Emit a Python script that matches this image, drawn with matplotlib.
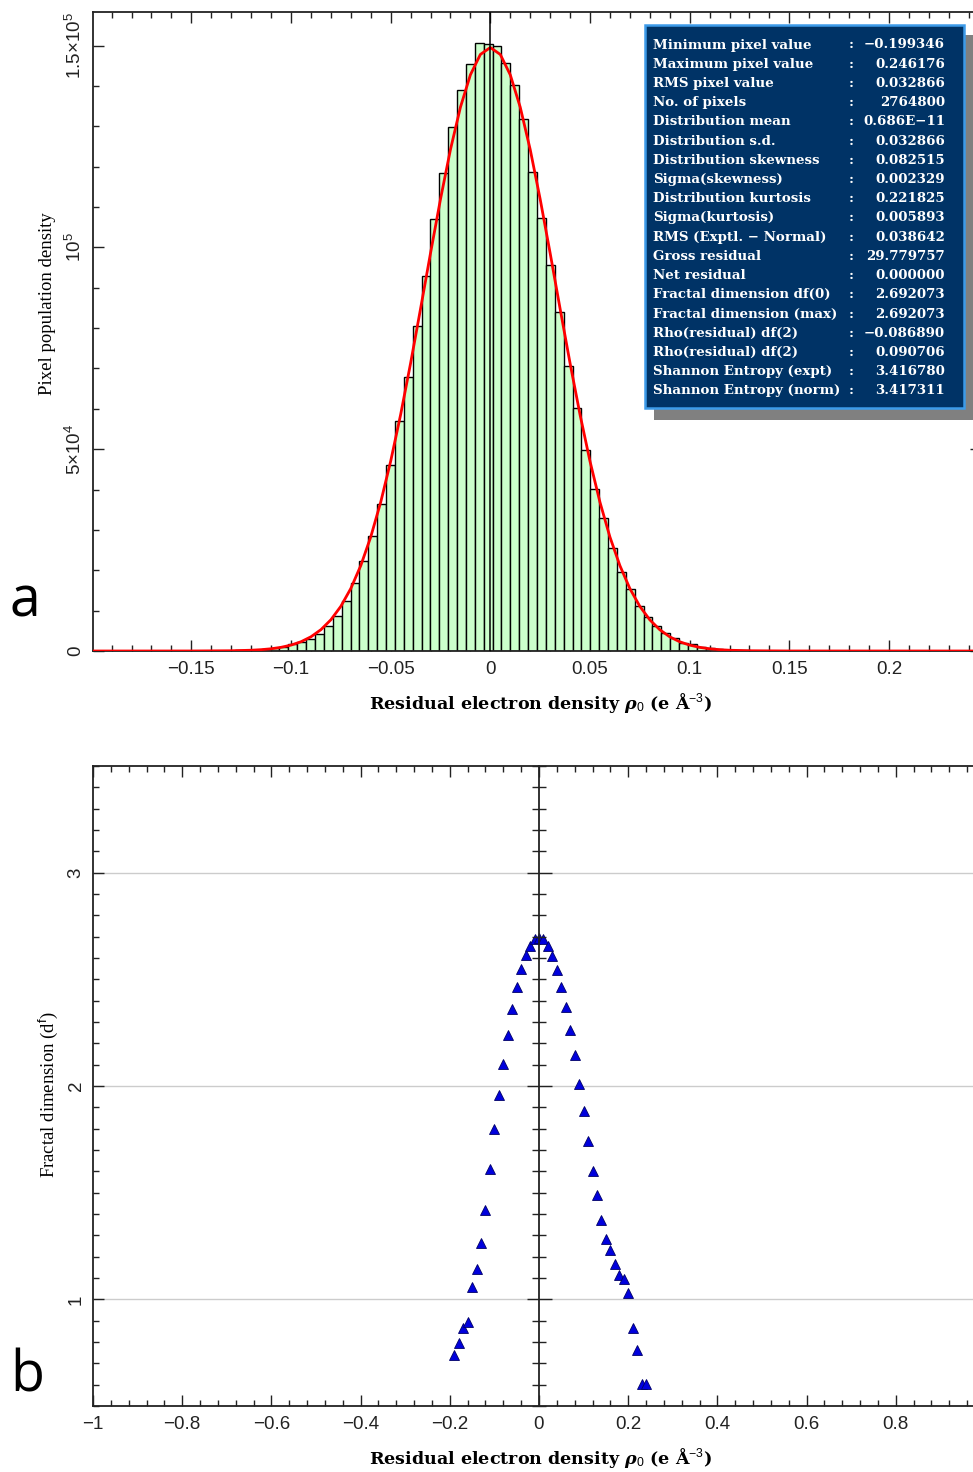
import numpy as np
import matplotlib
matplotlib.use("Agg")
import matplotlib.pyplot as plt
import matplotlib.ticker as mticker
from matplotlib.patches import Rectangle

# --- data ---
RHO_MIN = -0.199346
RHO_MAX = 0.246176

# pixel counts per bin (100 equal bins between RHO_MIN and RHO_MAX)
counts = [
    1, 2, 3, 4, 5, 7, 9, 12, 16, 21,
    28, 37, 50, 66, 88, 115, 150, 200, 300, 500,
    740, 1060, 1650, 2150, 2970, 4200, 6100, 8660, 12450, 16820,
    22270, 28450, 36400, 46100, 57000, 68000, 80500, 93000, 106900, 118400,
    129700, 139000, 145300, 150700, 150300, 149900, 145600, 140300, 131800, 118600,
    107300, 95600, 83900, 70600, 60300, 49900, 40250, 32830, 25400, 19620,
    15410, 11130, 8490, 6185, 4380, 3290, 2050, 1650, 1060, 820,
    500, 330, 230, 160, 115, 85, 62, 46, 34, 25,
    18, 14, 11, 8, 6, 5, 4, 3, 3, 2,
    2, 2, 1, 1, 1, 1, 1, 1, 1, 1,
]

# normal curve
curve_x = [-0.199, -0.15, -0.13, -0.12, -0.115, -0.11, -0.105, -0.1, -0.095, -0.09,
           -0.085, -0.08, -0.075, -0.07, -0.065, -0.06, -0.055, -0.05, -0.045, -0.04,
           -0.035, -0.03, -0.025, -0.02, -0.015, -0.01, -0.005, 0.0, 0.005, 0.01,
           0.015, 0.02, 0.025, 0.03, 0.035, 0.04, 0.045, 0.05, 0.055, 0.06,
           0.065, 0.07, 0.075, 0.08, 0.085, 0.09, 0.095, 0.1, 0.105, 0.11,
           0.115, 0.12, 0.13, 0.15, 0.246]
curve_y = [0, 5, 60, 190, 330, 550, 910, 1460, 2290, 3520,
           5280, 7730, 11070, 15480, 21160, 28250, 36870, 47010, 58570, 71300,
           84810, 98580, 111950, 124240, 134720, 142740, 147780, 149500, 147780, 142740,
           134720, 124240, 111950, 98580, 84810, 71300, 58570, 47010, 36870, 28250,
           21160, 15480, 11070, 7730, 5280, 3520, 2290, 1460, 910, 550,
           330, 190, 60, 5, 0]

xticks_a = [-0.15, -0.1, -0.05, 0, 0.05, 0.1, 0.15, 0.2]
xticklabels_a = ["\u22120.15", "\u22120.1", "\u22120.05", "0", "0.05", "0.1", "0.15", "0.2"]
yticks_a = [0, 5e4, 1e5, 1.5e5]
yticklabels_a = ["0", "5\u00d710$^4$", "10$^5$", "1.5\u00d710$^5$"]

# fractal dimension vs residual density
fd_rho = [-0.19, -0.18, -0.17, -0.16, -0.15, -0.14, -0.13, -0.12, -0.11, -0.10,
          -0.09, -0.08, -0.07, -0.06, -0.05, -0.04, -0.03, -0.02, -0.01, 0.0,
          0.01, 0.02, 0.03, 0.04, 0.05, 0.06, 0.07, 0.08, 0.09, 0.10,
          0.11, 0.12, 0.13, 0.14, 0.15, 0.16, 0.17, 0.18, 0.19, 0.20,
          0.21, 0.22, 0.23, 0.24]
fd_val = [0.741, 0.795, 0.867, 0.894, 1.056, 1.144, 1.262, 1.417, 1.609, 1.798,
          1.959, 2.101, 2.241, 2.362, 2.466, 2.547, 2.614, 2.658, 2.688, 2.692,
          2.689, 2.655, 2.611, 2.546, 2.466, 2.371, 2.263, 2.143, 2.010, 1.884,
          1.740, 1.601, 1.490, 1.372, 1.281, 1.230, 1.167, 1.116, 1.094, 1.030,
          0.866, 0.761, 0.602, 0.602]

xticks_b = [-1, -0.8, -0.6, -0.4, -0.2, 0, 0.2, 0.4, 0.6, 0.8]
xticklabels_b = ["\u22121", "\u22120.8", "\u22120.6", "\u22120.4", "\u22120.2",
                 "0", "0.2", "0.4", "0.6", "0.8"]
yticks_b = [1, 2, 3]

stat_names = [
    "Minimum pixel value", "Maximum pixel value", "RMS pixel value",
    "No. of pixels", "Distribution mean", "Distribution s.d.",
    "Distribution skewness", "Sigma(skewness)", "Distribution kurtosis",
    "Sigma(kurtosis)", "RMS (Exptl. \u2212 Normal)", "Gross residual",
    "Net residual", "Fractal dimension df(0)", "Fractal dimension (max)",
    "Rho(residual) df(2)", "Rho(residual) df(2)", "Shannon Entropy (expt)",
    "Shannon Entropy (norm)",
]
stat_values = [
    "\u22120.199346", "0.246176", "0.032866", "2764800", "0.686E\u221211",
    "0.032866", "0.082515", "0.002329", "0.221825", "0.005893",
    "0.038642", "29.779757", "0.000000", "2.692073", "2.692073",
    "\u22120.086890", "0.090706", "3.416780", "3.417311",
]

# --- style ---
plt.rcParams['font.family'] = ['Liberation Sans', 'DejaVu Sans']
plt.rcParams['mathtext.fontset'] = 'custom'
plt.rcParams['mathtext.rm'] = 'Liberation Sans'
plt.rcParams['mathtext.it'] = 'DejaVu Serif:italic:bold'
plt.rcParams['mathtext.bf'] = 'Liberation Sans:bold'
plt.rcParams['axes.unicode_minus'] = True

W, H = 973, 1472
fig = plt.figure(figsize=(W / 100, H / 100), dpi=100)


def px_box(left, top, right, bottom):
    return [left / W, 1 - bottom / H, (right - left) / W, (bottom - top) / H]


def style_axes(ax):
    for s in ax.spines.values():
        s.set_linewidth(1.3)
        s.set_color('#222222')
    ax.tick_params(which='both', direction='in', top=True, right=True,
                   labelsize=13.5, colors='#222222', width=1)
    ax.tick_params(which='major', length=8)
    ax.tick_params(which='minor', length=4.5)
    ax.tick_params(axis='y', labelrotation=90, pad=6)
    ax.tick_params(axis='x', pad=7)


# --- panel a: histogram ---
ax_a = fig.add_axes(px_box(93, 12, 981, 651))
edges = np.linspace(RHO_MIN, RHO_MAX, len(counts) + 1)
bw = edges[1] - edges[0]
ax_a.bar(edges[:-1], counts, width=bw, align='edge', color='#ccffcc',
         edgecolor='black', linewidth=1.0, zorder=2)
ax_a.plot(curve_x, curve_y, color='#ff0000', linewidth=2.0, zorder=3)
ax_a.axvline(0, color='black', linewidth=1.1, zorder=4)
ax_a.set_xlim(RHO_MIN, RHO_MAX)
ax_a.set_ylim(0, 158300)
ax_a.set_xticks(xticks_a)
ax_a.set_xticklabels(xticklabels_a)
ax_a.xaxis.set_minor_locator(mticker.MultipleLocator(0.01))
ax_a.set_yticks(yticks_a)
ax_a.set_yticklabels(yticklabels_a, va='center')
ax_a.yaxis.set_minor_locator(mticker.MultipleLocator(1e4))
style_axes(ax_a)

# --- panel b: fractal dimension ---
ax_b = fig.add_axes(px_box(93, 766, 985, 1406))
ax_b.set_xlim(-1, 1)
ax_b.set_ylim(0.5, 3.5)
ax_b.set_xticks(xticks_b)
ax_b.set_xticklabels(xticklabels_b)
ax_b.xaxis.set_minor_locator(mticker.MultipleLocator(0.04))
ax_b.set_yticks(yticks_b)
ax_b.set_yticklabels([str(v) for v in yticks_b], va='center')
ax_b.yaxis.set_minor_locator(mticker.MultipleLocator(0.1))
ax_b.grid(axis='y', which='major', color='#cccccc', linewidth=1.0)
ax_b.set_axisbelow(True)
ax_b.plot(fd_rho, fd_val, linestyle='none', marker='^', markersize=7.5,
          markerfacecolor='#0000dd', markeredgecolor='#000066',
          markeredgewidth=0.6, zorder=3)
style_axes(ax_b)

# vertical axis through rho = 0 with crossing ticks
ax_c = fig.add_axes(ax_b.get_position(), label='center')
ax_c.set_xlim(-1, 1)
ax_c.set_ylim(0.5, 3.5)
ax_c.patch.set_visible(False)
for side in ['top', 'bottom', 'right']:
    ax_c.spines[side].set_visible(False)
ax_c.spines['left'].set_position(('data', 0))
ax_c.spines['left'].set_linewidth(1.3)
ax_c.spines['left'].set_color('#222222')
ax_c.set_xticks([])
ax_c.yaxis.set_major_locator(mticker.MultipleLocator(1))
ax_c.yaxis.set_minor_locator(mticker.MultipleLocator(0.1))
ax_c.tick_params(axis='y', which='both', direction='inout', labelleft=False,
                 width=1, colors='#222222')
ax_c.tick_params(axis='y', which='major', length=18)
ax_c.tick_params(axis='y', which='minor', length=10)

# --- axis labels ---
xlab = "Residual electron density $\\rho_0$ (e \u00c5$^{-3}$)"
fig.text(540 / W, 1 - 703 / H, xlab, family='DejaVu Serif', fontweight='bold',
         fontsize=12.6, ha='center', va='center')
fig.text(540 / W, 1 - 1458 / H, xlab, family='DejaVu Serif', fontweight='bold',
         fontsize=12.6, ha='center', va='center')
fig.text(48 / W, 1 - 304 / H, "Pixel population density", family='Liberation Serif',
         fontsize=13.5, rotation=90, ha='center', va='center')
fig.text(48 / W, 1 - 1095 / H, "Fractal dimension (d$^{\\mathrm{f}}$)",
         family='Liberation Serif', fontsize=13.5, rotation=90, ha='center', va='center')

# panel letters
fig.text(10 / W, 1 - 617 / H, "a", family='Open Sans', fontsize=40, va='baseline')
fig.text(10 / W, 1 - 1392 / H, "b", family='Open Sans', fontsize=40, va='baseline')

# --- statistics box ---
fig.patches.append(Rectangle((654 / W, 1 - 420 / H), (974 - 654) / W, (420 - 35) / H,
                             transform=fig.transFigure, facecolor='#808080',
                             edgecolor='none', zorder=5))
fig.patches.append(Rectangle((645 / W, 1 - 408 / H), (964 - 645) / W, (408 - 25) / H,
                             transform=fig.transFigure, facecolor='#003366',
                             edgecolor='#3d9be9', linewidth=1.8, zorder=6))
row_top, row_step = 45, 19.22
box_font = dict(family='DejaVu Serif', fontweight='bold', fontsize=9.6, color='white',
                va='center', zorder=7)
for i, (name, val) in enumerate(zip(stat_names, stat_values)):
    yy = 1 - (row_top + i * row_step) / H
    fig.text(653 / W, yy, name, ha='left', **box_font)
    fig.text(851 / W, yy, ":", ha='center', **box_font)
    fig.text(945 / W, yy, val, ha='right', **box_font)

fig.savefig("out.png", dpi=100)
